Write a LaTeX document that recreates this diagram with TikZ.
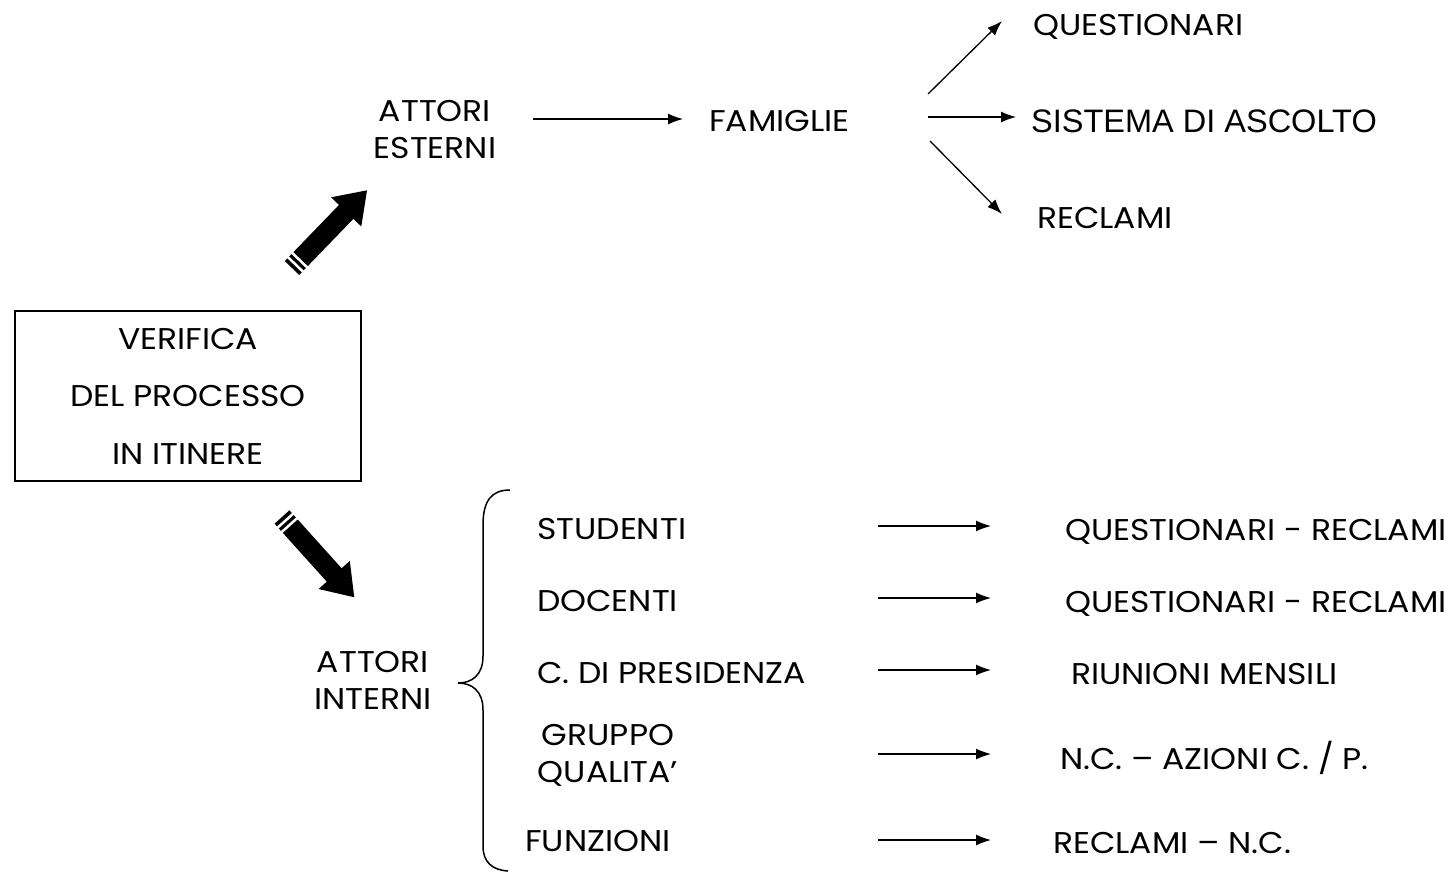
\documentclass[tikz,border=0pt]{standalone}
\usepackage{fontspec}
\setmainfont{Poppins}[FakeStretch=1.1]
\newfontfamily\arialfont{Liberation Sans}
\usetikzlibrary{arrows.meta}
\tikzset{
  lbl/.style={inner sep=0pt, font=\fontsize{30}{37.5}\selectfont, text height=21pt, text depth=0pt},
  lblw/.style={lbl, anchor=west},
  arr/.style={line width=1.3pt, -{Latex[length=15pt,width=11pt]}},
  fatarrow/.pic={
    \fill[black] (0,-10) -- (78,-10) -- (78,-21) -- (108,0) -- (78,21) -- (78,10) -- (0,10) -- cycle;
    \draw[white, line width=2.5pt] (5,-12) -- (5,12);
    \draw[white, line width=2.5pt] (11,-12) -- (11,12);
  }
}
\begin{document}
\begin{tikzpicture}[x=1pt,y=-1pt]
\useasboundingbox (0,0) rectangle (1450,872);
% main box
\node[draw, line width=1.2pt, minimum width=346pt, minimum height=170pt, inner sep=0pt,
      align=center, font=\fontsize{30}{57.5}\selectfont] (box) at (188,396)
      {VERIFICA\\DEL PROCESSO\\IN ITINERE};
% upper branch
\node[lbl, align=center] (ae) at (435,148) {ATTORI\\ESTERNI};
\node[lblw] (fam) at (709,121) {FAMIGLIE};
\node[lblw] (q1) at (1033,25) {QUESTIONARI};
\node[lblw, font=\arialfont\fontsize{32.5}{38}\selectfont, text height=23pt] (sis) at (1031,121) {SISTEMA DI ASCOLTO};
\node[lblw] (rec) at (1037,218) {RECLAMI};
\coordinate (a0s) at (533,119);
\coordinate (a0e) at (683,119);
\draw[arr] (a0s) -- (a0e);
\coordinate (f1s) at (928,94);
\coordinate (f1e) at (1002,21);
\coordinate (f2s) at (928,117);
\coordinate (f2e) at (1016,117);
\coordinate (f3s) at (930,141);
\coordinate (f3e) at (1002,214);
\draw[arr] (f1s) -- (f1e);
\draw[arr] (f2s) -- (f2e);
\draw[arr] (f3s) -- (f3e);
% fat arrows
\pic[rotate=46] at (292,268) {fatarrow};
\pic[rotate=-48] at (282,517) {fatarrow};
% lower branch
\node[lbl, align=center] (ai) at (373,699) {ATTORI\\INTERNI};
\draw[line width=1.5pt] (510,490) .. controls (492,490) and (483,500) .. (483,525)
  -- (483,656) .. controls (483,675) and (472,683) .. (458,683)
  .. controls (472,683) and (483,691) .. (483,710)
  -- (483,846) .. controls (483,862) and (492,870) .. (508,871);
\node[lblw] (stu) at (537,529) {STUDENTI};
\node[lblw] (doc) at (537,601) {DOCENTI};
\node[lblw] (pres) at (537,673) {C. DI PRESIDENZA};
\node[lbl, align=center] (gq) at (608,772) {GRUPPO\\QUALITA’};
\node[lblw] (fun) at (525,841) {FUNZIONI};
\node[lblw] (r1) at (1065,530) {QUESTIONARI - RECLAMI};
\node[lblw] (r2) at (1065,602) {QUESTIONARI - RECLAMI};
\node[lblw] (r3) at (1071,674) {RIUNIONI MENSILI};
\node[lblw] (r4) at (1060,759) {N.C. – AZIONI C. / P.};
\node[lblw] (r5) at (1053,843) {RECLAMI – N.C.};
\foreach \i/\y in {1/526,2/598,3/670,4/754,5/840}{
  \coordinate (rs\i) at (878,\y);
  \coordinate (re\i) at (991,\y);
  \draw[arr] (rs\i) -- (re\i);
}
\end{tikzpicture}
\end{document}
